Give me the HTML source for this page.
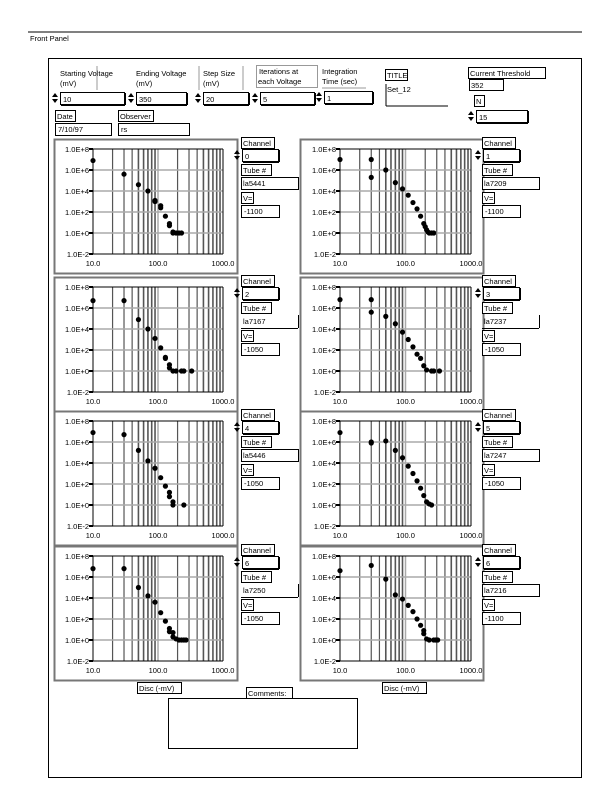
<!DOCTYPE html>
<html><head><meta charset="utf-8"><style>
body{margin:0;background:#fff}
svg text{font-family:"Liberation Sans",sans-serif;font-size:7.5px;fill:#000}
</style></head><body>
<svg id="s" width="612" height="792" xmlns="http://www.w3.org/2000/svg">
<text x="30" y="41">Front Panel</text>
<line x1="28" y1="32" x2="582" y2="32" stroke="#000"/>
<rect x="48.5" y="58.5" width="533" height="719" fill="none" stroke="#000"/>
</svg>
<script>
const s=document.getElementById('s');let h='';
function t(x,y,str,a){h+=`<text x="${x}" y="${y}"${a?' text-anchor="'+a+'"':''}>${str}</text>`;}
function r(x,y,w,hh,st,sw,f){h+=`<rect x="${x}" y="${y}" width="${w}" height="${hh}" fill="${f||'#fff'}" stroke="${st||'#000'}" stroke-width="${sw||1}"/>`;}
function l(x1,y1,x2,y2,c,w){h+=`<line x1="${x1}" y1="${y1}" x2="${x2}" y2="${y2}" stroke="${c||'#000'}" stroke-width="${w||1}"/>`;}
function lab(x,y,w,str){r(x+.5,y+.5,w,11,'#000',1);t(x+2,y+9,str);}
function spin(x,y){h+=`<path d="M${x},${y+5}l3,-4l3,4z M${x},${y+7}l3,4l3,-4z" fill="#000"/>`;}
function num(x,y,w,str){spin(x,y);r(x+8.5,y+.5,w,12,'#000',1);l(x+9+w,y+1,x+9+w,y+13,'#000',2);l(x+9,y+13,x+9+w,y+13,'#000',2);t(x+11,y+10,str);}
t(60,76,'Starting Voltage');t(60,86,'(mV)');l(97,66,97,90,'#999');
t(136,76,'Ending Voltage');t(136,86,'(mV)');l(199,66,199,90,'#999');
t(203,76,'Step Size');t(203,86,'(mV)');l(243,66,243,90,'#999');
r(256.5,65.5,61,22,'#999');t(259,74,'Iterations at');t(258,84,'each Voltage');
t(322,74,'Integration');t(322,84,'Time (sec)');l(322,88,366,88,'#999');
num(52,92,64,'10');num(128,92,50,'350');num(195,92,45,'20');num(252,92,54,'5');num(316,91,48,'1');
lab(385,69,22,'TITLE');t(387,92,'Set_12');l(386,106,448,106);l(386,84,386,106);
lab(468,67,77,'Current Threshold');r(469.5,79.5,34,11);t(471,88,'352');
lab(474,95,10,'N');num(468,110,51,'15');
lab(55,110,20,'Date');r(55.5,123.5,56,12);t(58,132,'7/10/97');
lab(118,110,35,'Observer');r(118.5,123.5,71,12);t(121,132,'rs');
const data=[
[[10,6.9],[30,5.6],[50,4.6],[70,4],[90,3.1],[90,3],[110,2.6],[110,2.4],[130,1.6],[150,0.9],[150,0.7],[170,0.1],[170,0],[190,0],[210,0],[230,0]],
[[10,7],[30,7],[30,5.3],[50,6],[70,4.8],[90,4.2],[110,3.6],[130,2.9],[150,2.3],[170,1.6],[190,0.9],[200,0.6],[210,0.3],[220,0.1],[230,0],[250,0],[270,0]],
[[10,6.7],[30,6.7],[50,4.9],[70,4],[90,3.1],[110,2.2],[130,1.3],[130,1.2],[150,0.6],[150,0.3],[170,0],[190,0],[230,0],[250,0],[330,0]],
[[10,6.8],[30,6.8],[30,5.6],[50,5.2],[70,4.5],[90,3.7],[110,3],[130,2.3],[150,1.6],[170,1.2],[190,0.5],[210,0.1],[250,0],[270,0],[330,0]],
[[10,6.9],[30,6.7],[50,5.2],[70,4.2],[90,3.5],[110,2.6],[130,1.8],[150,1.2],[150,0.8],[170,0.3],[170,0],[250,0]],
[[10,6.9],[30,6],[30,5.9],[50,6.1],[70,5.2],[90,4.5],[110,3.7],[130,3],[150,2.3],[170,1.6],[190,0.9],[210,0.3],[230,0.1],[250,0]],
[[10,6.8],[30,6.8],[50,5],[70,4.2],[90,3.6],[110,2.6],[130,1.8],[150,1.1],[150,0.8],[170,0.7],[170,0.3],[190,0.1],[210,0],[230,0],[250,0],[270,0]],
[[10,6.6],[30,7.1],[50,5.8],[70,4.3],[90,3.9],[110,3.3],[130,2.7],[150,2],[170,1.4],[190,0.9],[190,0.6],[210,0.1],[230,0],[270,0],[290,0],[310,0]]];
const tube=['la5441','la7209','la7167','la7237','la5446','la7247','la7250','la7216'];
const volt=['-1100','-1100','-1050','-1050','-1050','-1050','-1050','-1100'];
const chan=['0','1','2','3','4','5','6','6'];
const rows=[139,277,411,546];
for(let i=0;i<8;i++){
 const col=i%2,row=i>>1,fy=rows[row];
 const fx=col?300:54, px=col?340:93, pw=col?131:130, py=fy+10, ph=105;
 r(fx+.5,fy+.5,183,134,'#777',2);
 for(let d=1;d<3;d++)for(let m=2;m<=9;m++){const x=px+pw*((d-1)+Math.log10(m))/2;l(x,py,x,py+ph,'#555',m>=5?1.6:1.2);}
 l(px+pw/2,py,px+pw/2,py+ph,'#aaa',1.5);
 for(let k=1;k<5;k++){const y=py+ph*k/5;l(px,y,px+pw,y,'#aaa',1.5);}
 l(px,py,px,py+ph,'#000');l(px,py,px+pw,py,'#000');l(px+pw,py,px+pw,py+ph,'#000');l(px,py+ph,px+pw,py+ph,'#000');
 const ly=['1.0E+8','1.0E+6','1.0E+4','1.0E+2','1.0E+0','1.0E-2'];
 for(let k=0;k<6;k++){const y=py+ph*k/5;t(px-4,y+3,ly[k],'end');l(px-4,y,px,y,'#000',2);}
 t(px,py+ph+12,'10.0','middle');t(px+pw/2,py+ph+12,'100.0','middle');t(px+pw,py+ph+12,'1000.0','middle');
 for(const [v,e] of data[i]){const x=px+pw*(Math.log10(v)-1)/2,y=py+ph*(8-e)/10;h+=`<circle cx="${x}" cy="${y}" r="2.6" fill="#000"/>`;}
 const cx=col?482:241, cy=fy-2;
 lab(cx,cy,33,'Channel');
 num(cx-7,cy+12,36,chan[i]);
 lab(cx,cy+27,30,'Tube #');
 const open=(i==2||i==6||i==3);
 if(!open){r(cx+.5,cy+40.5,57,12);}else{l(cx+57.5,cy+40,cx+57.5,cy+53);l(cx,cy+53.5,cx+57,cy+53.5);}
 t(cx+2,cy+49,tube[i]);
 lab(cx,cy+55,12,'V=');
 r(cx+.5,cy+68.5,38,12);t(cx+3,cy+77,volt[i]);
}
lab(137,682,44,'Disc (-mV)');lab(382,682,44,'Disc (-mV)');
lab(246,687,46,'Comments:');r(168.5,698.5,189,50);
s.insertAdjacentHTML('beforeend',h);
</script>
</body></html>
